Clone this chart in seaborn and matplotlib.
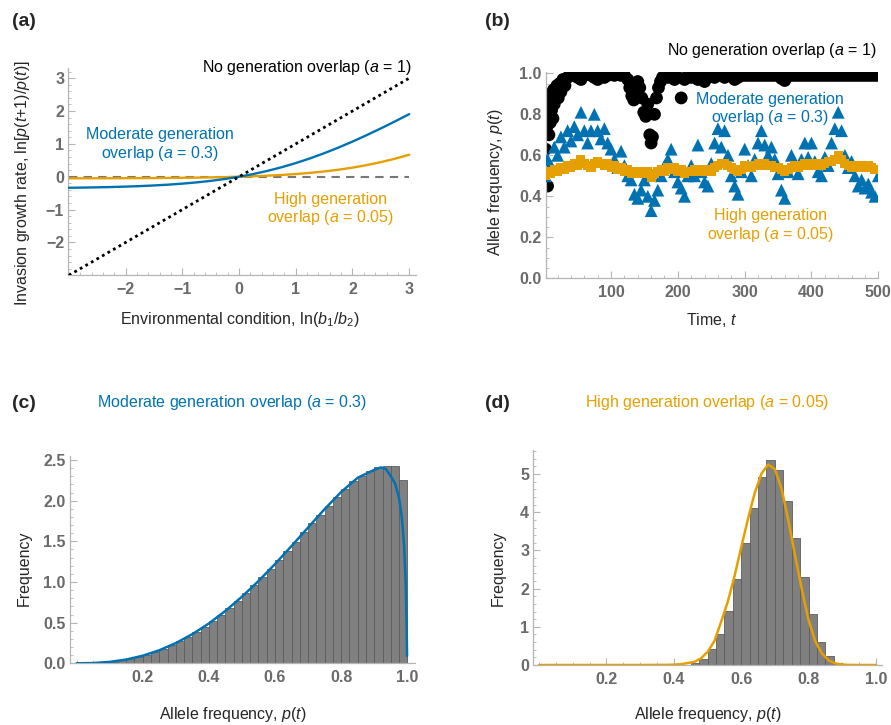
import numpy as np
import pandas as pd
import matplotlib
matplotlib.use("Agg")
import matplotlib.pyplot as plt
import seaborn as sns
from matplotlib.ticker import MultipleLocator

# ---------------- data ----------------
# (a) invasion growth rate vs environmental condition
env_x = [-3.0, -2.75, -2.5, -2.25, -2.0, -1.75, -1.5, -1.25, -1.0, -0.75, -0.5, -0.25, 0.0,
         0.25, 0.5, 0.75, 1.0, 1.25, 1.5, 1.75, 2.0, 2.25, 2.5, 2.75, 3.0]
growth_a03 = [-0.336, -0.330, -0.322, -0.313, -0.300, -0.285, -0.265, -0.241, -0.210, -0.172, -0.126, -0.069, 0.0,
              0.082, 0.178, 0.289, 0.416, 0.558, 0.715, 0.886, 1.070, 1.266, 1.471, 1.685, 1.906]
growth_a005 = [-0.049, -0.048, -0.047, -0.046, -0.044, -0.042, -0.040, -0.036, -0.032, -0.027, -0.020, -0.011, 0.0,
               0.014, 0.032, 0.054, 0.082, 0.117, 0.161, 0.213, 0.277, 0.354, 0.444, 0.549, 0.670]
line_a1_x = [-3.0, 3.0]
line_a1_y = [-3.0, 3.0]

# (b) allele frequency time series
t_black = [1, 2, 3, 4, 5, 6, 7, 8, 9, 10, 11, 12, 13, 14, 15, 17, 19, 21, 23, 25, 28, 31, 35, 40, 45, 50,
           55, 60, 65, 70, 75, 80, 85, 90, 95, 100, 105, 110, 115, 120, 125, 128, 131, 134, 137, 140, 143,
           146, 149, 152, 155, 158, 160, 162, 165, 168, 171, 174, 177, 180, 185, 190, 195, 200, 205, 210,
           215, 220, 225, 230, 235, 240, 245, 250, 255, 260, 265, 270, 275, 280, 285, 290, 295, 300, 305,
           310, 315, 320, 325, 330, 335, 340, 345, 350, 355, 360, 365, 370, 375, 380, 385, 390, 395, 400,
           405, 410, 415, 420, 425, 430, 435, 440, 445, 450, 455, 460, 465, 470, 475, 480, 485, 490, 495, 500]
p_black = [0.46, 0.63, 0.55, 0.74, 0.45, 0.80, 0.70, 0.86, 0.76, 0.90, 0.82, 0.88, 0.78, 0.92, 0.85, 0.90,
           0.94, 0.88, 0.95, 0.91, 0.97, 0.94, 0.98, 0.99, 1.00, 0.98, 0.97, 0.99, 1.00, 0.99, 0.98, 0.97,
           0.99, 0.98, 0.99, 1.00, 0.99, 1.00, 0.99, 0.99, 0.97, 0.93, 0.89, 0.87, 0.90, 0.96, 0.93, 0.88,
           0.81, 0.79, 0.85, 0.70, 0.66, 0.69, 0.80, 0.88, 0.93, 0.96, 0.98, 0.99, 0.98, 0.99, 0.97, 0.98,
           0.88, 0.97, 0.99, 0.98, 0.99, 0.97, 0.98, 0.96, 0.98, 0.99, 0.98, 0.99, 0.99, 0.98, 0.99, 0.99,
           0.97, 0.98, 0.99, 0.99, 0.99, 0.99, 0.99, 0.99, 0.99, 0.99, 0.99, 0.99, 0.99, 0.99, 0.975, 0.965,
           0.99, 0.99, 0.99, 0.99, 0.99, 0.99, 0.99, 0.99, 0.99, 0.99, 0.99, 0.99, 0.99, 0.99, 0.99, 0.99,
           0.99, 0.99, 0.99, 0.99, 0.99, 0.99, 0.99, 0.99, 0.99, 0.99, 0.99, 0.99]

t_series = [2] + list(range(5, 505, 5))
p_blue = [0.50, 0.58, 0.55, 0.64, 0.60, 0.69, 0.64, 0.72, 0.67, 0.74, 0.70, 0.81, 0.72, 0.66, 0.72, 0.80,
          0.72, 0.68, 0.73, 0.66, 0.63, 0.58, 0.54, 0.62, 0.55, 0.50, 0.48, 0.41, 0.39, 0.43, 0.48, 0.40,
          0.33, 0.38, 0.43, 0.50, 0.55, 0.58, 0.63, 0.52, 0.47, 0.44, 0.40, 0.50, 0.55, 0.50, 0.65, 0.52,
          0.47, 0.45, 0.56, 0.66, 0.73, 0.64, 0.72, 0.60, 0.50, 0.45, 0.41, 0.52, 0.63, 0.55, 0.50, 0.58,
          0.66, 0.72, 0.65, 0.60, 0.64, 0.58, 0.51, 0.43, 0.39, 0.52, 0.60, 0.56, 0.51, 0.58, 0.66, 0.59,
          0.66, 0.57, 0.52, 0.50, 0.59, 0.55, 0.66, 0.73, 0.81, 0.72, 0.60, 0.54, 0.57, 0.50, 0.45, 0.48,
          0.44, 0.46, 0.42, 0.40, 0.50]
p_orange = [0.50, 0.52, 0.51, 0.53, 0.52, 0.54, 0.53, 0.55, 0.54, 0.56, 0.55, 0.58, 0.56, 0.55, 0.54, 0.56,
            0.57, 0.56, 0.55, 0.56, 0.54, 0.55, 0.53, 0.54, 0.52, 0.53, 0.51, 0.52, 0.51, 0.52, 0.51, 0.52,
            0.49, 0.51, 0.52, 0.53, 0.52, 0.54, 0.53, 0.54, 0.52, 0.53, 0.51, 0.52, 0.52, 0.53, 0.52, 0.53,
            0.52, 0.53, 0.52, 0.54, 0.55, 0.56, 0.56, 0.55, 0.54, 0.53, 0.52, 0.53, 0.55, 0.54, 0.54, 0.55,
            0.56, 0.55, 0.56, 0.55, 0.55, 0.54, 0.54, 0.53, 0.52, 0.53, 0.54, 0.55, 0.54, 0.55, 0.56, 0.55,
            0.56, 0.55, 0.56, 0.55, 0.56, 0.57, 0.57, 0.58, 0.60, 0.58, 0.56, 0.55, 0.54, 0.55, 0.54, 0.55,
            0.54, 0.55, 0.54, 0.53, 0.53]

# (c), (d) histograms: 40 bins of width 0.025 on [0, 1]
bin_centers = [round(0.0125 + 0.025 * k, 4) for k in range(40)]
hist_c = [0.000, 0.001, 0.005, 0.011, 0.021, 0.035, 0.053, 0.077, 0.105, 0.138,
          0.176, 0.220, 0.270, 0.325, 0.385, 0.450, 0.520, 0.600, 0.680, 0.770,
          0.860, 0.960, 1.060, 1.160, 1.270, 1.380, 1.490, 1.610, 1.720, 1.830,
          1.940, 2.050, 2.150, 2.240, 2.310, 2.370, 2.410, 2.430, 2.430, 2.250]
hist_d = [0, 0, 0, 0, 0, 0, 0, 0, 0, 0,
          0, 0, 0, 0, 0, 0, 0, 0.01, 0.06, 0.17,
          0.41, 0.80, 1.41, 2.24, 3.20, 4.12, 4.91, 5.36, 5.10, 4.29,
          3.32, 2.30, 1.34, 0.60, 0.24, 0.04, 0, 0, 0, 0]

dens_c_x = [0.0, 0.05, 0.1, 0.15, 0.2, 0.25, 0.3, 0.35, 0.4, 0.45, 0.5, 0.55, 0.6, 0.65, 0.7, 0.75,
            0.8, 0.85, 0.9, 0.92, 0.935, 0.95, 0.963, 0.975, 0.983, 0.99, 0.995, 0.998, 0.999]
dens_c_y = [0.0, 0.003, 0.017, 0.046, 0.093, 0.160, 0.248, 0.358, 0.490, 0.644, 0.819, 1.012, 1.221,
            1.443, 1.671, 1.897, 2.108, 2.283, 2.380, 2.410, 2.390, 2.300, 2.210, 2.030, 1.800, 1.450,
            0.980, 0.400, 0.090]
dens_d_x = [0.0, 0.1, 0.2, 0.3, 0.38, 0.40, 0.42, 0.44, 0.46, 0.48, 0.50, 0.52, 0.54, 0.56, 0.58, 0.60,
            0.62, 0.64, 0.66, 0.68, 0.70, 0.72, 0.74, 0.76, 0.78, 0.80, 0.82, 0.84, 0.86, 0.88, 0.90,
            0.92, 0.95, 1.0]
dens_d_y = [0.0, 0.0, 0.0, 0.0, 0.004, 0.01, 0.02, 0.05, 0.08, 0.17, 0.34, 0.62, 1.12, 1.65, 2.32, 3.08,
            3.82, 4.50, 5.01, 5.25, 5.13, 4.61, 3.79, 2.86, 1.98, 1.18, 0.62, 0.30, 0.12, 0.04, 0.012,
            0.003, 0.0, 0.0]

# tick labels
a_xticks = [-2, -1, 0, 1, 2, 3]
a_xticklabels = ["\u22122", "\u22121", "0", "1", "2", "3"]
a_yticks = [-2, -1, 0, 1, 2, 3]
a_yticklabels = ["\u22122", "\u22121", "0", "1", "2", "3"]
b_xticks = [100, 200, 300, 400, 500]
b_xticklabels = ["100", "200", "300", "400", "500"]
b_yticks = [0.0, 0.2, 0.4, 0.6, 0.8, 1.0]
b_yticklabels = ["0.0", "0.2", "0.4", "0.6", "0.8", "1.0"]
p_ticks = [0.2, 0.4, 0.6, 0.8, 1.0]
p_ticklabels = ["0.2", "0.4", "0.6", "0.8", "1.0"]
c_yticks = [0.0, 0.5, 1.0, 1.5, 2.0, 2.5]
c_yticklabels = ["0.0", "0.5", "1.0", "1.5", "2.0", "2.5"]
d_yticks = [0, 1, 2, 3, 4, 5]
d_yticklabels = ["0", "1", "2", "3", "4", "5"]

BLUE = "#0072B2"
ORANGE = "#E69F00"

# ---------------- style ----------------
sns.set_style("ticks")
plt.rcParams["font.family"] = ["Liberation Sans", "DejaVu Sans"]
plt.rcParams["mathtext.fontset"] = "custom"
plt.rcParams["mathtext.rm"] = "Liberation Sans"
plt.rcParams["mathtext.it"] = "Liberation Sans:italic"
plt.rcParams["mathtext.bf"] = "Liberation Sans:bold"

FS = 11.5
AXC = "#b4b4b4"
LBLC = "#6a6a6a"

fig = plt.figure(figsize=(8.91, 7.25), dpi=100)
W, H = 891.0, 725.0


def add_ax(left, top, right, bottom):
    return fig.add_axes([left / W, 1 - bottom / H, (right - left) / W, (bottom - top) / H])


def style(ax, xt, xtl, yt, ytl, xminor, yminor):
    for s in ["top", "right"]:
        ax.spines[s].set_visible(False)
    for s in ["left", "bottom"]:
        ax.spines[s].set_color(AXC)
        ax.spines[s].set_linewidth(0.9)
    ax.set_xticks(xt, labels=xtl, fontweight="bold")
    ax.set_yticks(yt, labels=ytl, fontweight="bold")
    ax.xaxis.set_minor_locator(MultipleLocator(xminor))
    ax.yaxis.set_minor_locator(MultipleLocator(yminor))
    ax.tick_params(which="both", direction="in", colors=AXC, labelcolor=LBLC, labelsize=FS)
    ax.tick_params(which="major", length=5, width=0.8)
    ax.tick_params(which="minor", length=2.5, width=0.6)
    ax.tick_params(axis="x", pad=5)
    ax.tick_params(axis="y", pad=3)


def weighted_hist(ax, heights):
    df = pd.DataFrame({"p": bin_centers, "h": heights})
    sns.histplot(data=df, x="p", weights="h", binwidth=0.025, binrange=(0.0, 1.0), ax=ax,
                 stat="count", color="#808080", edgecolor="#5c5c5c", linewidth=0.6, alpha=1.0, zorder=1)


# ---------------- (a) ----------------
axA = add_ax(68.3, 68, 416, 275.3)
axA.hlines(0, env_x[0], env_x[-1], colors="#777777", linestyles=(0, (4, 3)), linewidth=1.5, zorder=1)
sns.lineplot(x=env_x, y=growth_a005, ax=axA, color=ORANGE, linewidth=1.7, zorder=2)
sns.lineplot(x=env_x, y=growth_a03, ax=axA, color=BLUE, linewidth=1.7, zorder=3)
sns.lineplot(x=line_a1_x, y=line_a1_y, ax=axA, color="black", linewidth=2.0,
             linestyle=(0, (1, 1.3)), zorder=4)
axA.set_xlim(-3.01, 3.12)
axA.set_ylim(-3.0, 3.31)
style(axA, a_xticks, a_xticklabels, a_yticks, a_yticklabels, 0.2, 0.2)
axA.set_xlabel(r"Environmental condition, ln($b_1$/$b_2$)", fontsize=FS)
axA.xaxis.set_label_coords(0.494, -0.165)
axA.set_ylabel(r"Invasion growth rate, ln[$p$($t$+1)/$p$($t$)]", fontsize=FS)
axA.yaxis.set_label_coords(-0.104, 0.445)
axA.text(3.05, 3.34, r"No generation overlap ($a$ = 1)", ha="right", va="center", fontsize=FS, color="black")
axA.text(-1.40, 0.97, "Moderate generation\n" + r"overlap ($a$ = 0.3)", ha="center", va="center",
         fontsize=FS, color=BLUE, linespacing=1.1)
axA.text(1.62, -0.99, "High generation\n" + r"overlap ($a$ = 0.05)", ha="center", va="center",
         fontsize=FS, color=ORANGE, linespacing=1.1)

# ---------------- (b) ----------------
axB = add_ax(545.7, 71.7, 878.3, 278.3)
sns.scatterplot(x=t_black, y=p_black, ax=axB, color="black", marker="o", s=85, edgecolor="none",
                linewidth=0, zorder=2)
sns.scatterplot(x=t_series, y=p_blue, ax=axB, color=BLUE, marker="^", s=85, edgecolor="none",
                linewidth=0, zorder=3)
sns.scatterplot(x=t_series, y=p_orange, ax=axB, color=ORANGE, marker="s", s=42, edgecolor="none",
                linewidth=0, zorder=4)
axB.set_xlim(2.2, 500)
axB.set_ylim(0, 1.008)
style(axB, b_xticks, b_xticklabels, b_yticks, b_yticklabels, 20, 0.05)
axB.set_xlabel(r"Time, $t$", fontsize=FS)
axB.xaxis.set_label_coords(0.5, -0.158)
axB.set_ylabel(r"Allele frequency, $p$($t$)", fontsize=FS)
axB.yaxis.set_label_coords(-0.122, 0.466)
axB.text(498, 1.109, r"No generation overlap ($a$ = 1)", ha="right", va="center", fontsize=FS, color="black")
axB.text(338, 0.823, "Moderate generation\n" + r"overlap ($a$ = 0.3)", ha="center", va="center",
         fontsize=FS, color=BLUE, linespacing=1.1)
axB.text(338, 0.255, "High generation\n" + r"overlap ($a$ = 0.05)", ha="center", va="center",
         fontsize=FS, color=ORANGE, linespacing=1.1)

# ---------------- (c) ----------------
axC = add_ax(70, 456, 415, 663.3)
weighted_hist(axC, hist_c)
sns.lineplot(x=dens_c_x, y=dens_c_y, ax=axC, color=BLUE, linewidth=1.8, zorder=3)
axC.set_xlim(-0.0197, 1.023)
axC.set_ylim(0, 2.55)
style(axC, p_ticks, p_ticklabels, c_yticks, c_yticklabels, 0.05, 0.1)
axC.set_xlabel(r"Allele frequency, $p$($t$)", fontsize=FS)
axC.xaxis.set_label_coords(0.472, -0.2)
axC.set_ylabel("Frequency", fontsize=FS)
axC.yaxis.set_label_coords(-0.110, 0.46)

# ---------------- (d) ----------------
axD = add_ax(533.3, 450, 882, 665)
weighted_hist(axD, hist_d)
sns.lineplot(x=dens_d_x, y=dens_d_y, ax=axD, color=ORANGE, linewidth=1.8, zorder=3)
axD.set_xlim(-0.0172, 1.018)
axD.set_ylim(0, 5.63)
style(axD, p_ticks, p_ticklabels, d_yticks, d_yticklabels, 0.05, 0.2)
axD.set_xlabel(r"Allele frequency, $p$($t$)", fontsize=FS)
axD.xaxis.set_label_coords(0.5, -0.186)
axD.set_ylabel("Frequency", fontsize=FS)
axD.yaxis.set_label_coords(-0.079, 0.451)

# ---------------- panel letters and titles ----------------
for lx, ly, s in [(12, 21, "(a)"), (485, 21, "(b)"), (12, 403, "(c)"), (485, 403, "(d)")]:
    fig.text(lx / W, 1 - ly / H, s, fontsize=14, fontweight="bold", ha="left", va="center")
fig.text(232 / W, 1 - 402 / H, r"Moderate generation overlap ($a$ = 0.3)", fontsize=FS, color=BLUE,
         ha="center", va="center")
fig.text(707 / W, 1 - 402 / H, r"High generation overlap ($a$ = 0.05)", fontsize=FS, color=ORANGE,
         ha="center", va="center")

fig.savefig("out.png", dpi=100)
